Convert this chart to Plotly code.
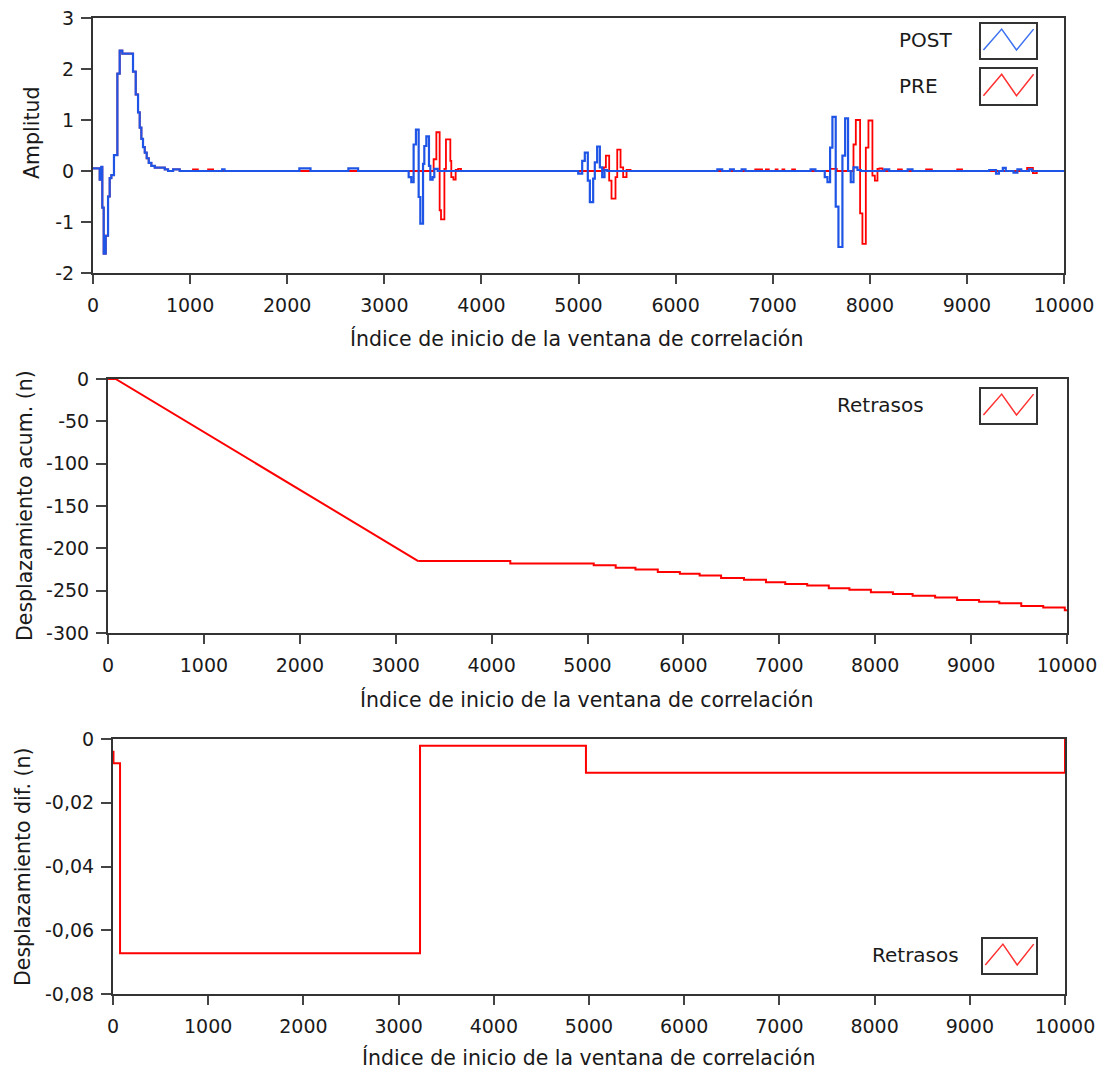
import plotly.graph_objects as go

# ---------------- data ----------------
# First echo (common to POST and PRE)
pulse_idx = [0, 69, 86, 96, 110, 131, 155, 172, 189, 216, 251, 275, 302, 412, 440, 464, 481, 498,
             515, 533, 553, 574, 601, 636, 739, 773, 825, 893]
pulse_val = [0.05, -0.17, 0.08, -0.72, -1.62, -1.27, -0.5, -0.14, -0.08, 0.31, 1.91, 2.36, 2.30, 1.95,
             1.5, 1.15, 0.85, 0.63, 0.47, 0.36, 0.25, 0.16, 0.10, 0.065, 0.03, 0.0, 0.03, 0.0]

# POST bursts
post_b1_idx = [3251, 3278, 3302, 3326, 3354, 3371, 3399, 3412, 3433, 3460, 3474, 3498, 3515, 3550]
post_b1_val = [-0.12, -0.22, 0.52, 0.81, -0.51, -1.03, 0.14, 0.49, 0.68, 0.10, -0.17, -0.12, 0.04, 0.0]
post_b2_idx = [4997, 5038, 5065, 5096, 5117, 5151, 5168, 5192, 5220, 5244, 5268, 5296]
post_b2_val = [-0.05, 0.2, 0.36, -0.19, -0.61, -0.15, 0.17, 0.48, 0.07, -0.12, 0.02, 0.0]
post_b3_idx = [7536, 7564, 7591, 7615, 7649, 7677, 7718, 7746, 7776, 7804, 7832, 7873, 7907]
post_b3_val = [-0.12, -0.22, 0.46, 1.06, -0.7, -1.49, 0.3, 1.03, 0.0, -0.22, 0.07, 0.02, 0.0]

# PRE bursts
pre_b1_idx = [3508, 3536, 3570, 3584, 3619, 3635, 3680, 3690, 3712, 3735, 3760, 3790]
pre_b1_val = [0.23, 0.76, -0.77, -0.95, 0.04, 0.62, 0.2, -0.12, -0.17, 0.02, 0.04, 0.0]
pre_b2_idx = [5261, 5282, 5316, 5340, 5381, 5399, 5433, 5460, 5495, 5536]
pre_b2_val = [0.07, 0.3, -0.19, -0.54, -0.12, 0.42, 0.07, -0.12, 0.02, 0.0]
pre_b3_idx = [7591, 7660, 7832, 7856, 7900, 7924, 7959, 7986, 8027, 8052, 8079, 8131]
pre_b3_val = [0.04, 0.0, 0.52, 1.0, -0.83, -1.43, 0.46, 0.99, -0.09, -0.19, 0.04, 0.0]

# small noise bumps
post_noise_idx = [1330, 1355, 2125, 2240, 2630, 2730, 6430, 6480, 6560, 6600, 6680, 6720, 7390, 7440,
                  8150, 8200, 8390, 8440, 9230, 9300, 9330, 9370, 9400, 9480, 9520, 9560, 9640, 9670]
post_noise_val = [0.03, 0.0, 0.05, 0.0, 0.05, 0.0, 0.03, 0.0, 0.03, 0.0, 0.03, 0.0, 0.03, 0.0,
                  0.03, 0.0, 0.03, 0.0, 0.02, -0.05, 0.0, 0.06, 0.0, -0.03, 0.03, 0.0, 0.03, 0.0]
pre_noise_idx = [1030, 1080, 1185, 1237, 6820, 6890, 6930, 6960, 7030, 7050, 7100, 7120, 7200, 7230,
                 8100, 8150, 8290, 8330, 8580, 8640, 8900, 8950, 9620, 9680, 9720]
pre_noise_val = [0.03, 0.0, 0.03, 0.0, 0.03, 0.0, 0.03, 0.0, 0.03, 0.0, 0.03, 0.0, 0.03, 0.0,
                 0.05, 0.0, 0.03, 0.0, 0.03, 0.0, 0.03, 0.0, 0.06, -0.04, 0.0]

end_idx = [10000]
end_val = [0.0]

# Cumulative delay (middle panel)
acc_slope_idx = [0, 80, 3235]
acc_slope_val = [0, 0, -215]
acc_step_idx = [3235, 4195, 5065, 5294, 5500, 5733, 5963, 6169, 6393, 6632, 6861, 7062, 7291, 7516,
                7731, 7955, 8185, 8390, 8625, 8854, 9083, 9294, 9523, 9752, 9977, 10000]
acc_step_val = [-215, -218, -220, -223, -225, -228, -230, -232, -235, -237, -240, -242, -244, -247,
                -249, -252, -254, -256, -258, -261, -263, -265, -268, -270, -273, -273]

# Differential delay (bottom panel)
dif_idx = [0, 5, 74, 3225, 4968, 10000]
dif_val = [-0.004, -0.0076, -0.0672, -0.0021, -0.0106, 0.0]

# tick labels
x_ticks = [0, 1000, 2000, 3000, 4000, 5000, 6000, 7000, 8000, 9000, 10000]
x_ticklabels = ["0", "1000", "2000", "3000", "4000", "5000", "6000", "7000", "8000", "9000", "10000"]
y1_ticks = [-2, -1, 0, 1, 2, 3]
y1_ticklabels = ["-2", "-1", "0", "1", "2", "3"]
y2_ticks = [-300, -250, -200, -150, -100, -50, 0]
y2_ticklabels = ["-300", "-250", "-200", "-150", "-100", "-50", "0"]
y3_ticks = [-0.08, -0.06, -0.04, -0.02, 0]
y3_ticklabels = ["-0,08", "-0,06", "-0,04", "-0,02", "0"]


def merge(*pairs):
    pts = []
    for ix, vv in pairs:
        pts.extend(zip(ix, vv))
    pts.sort(key=lambda p: p[0])
    return [p[0] for p in pts], [p[1] for p in pts]


post_x, post_y = merge((pulse_idx, pulse_val), (post_b1_idx, post_b1_val), (post_b2_idx, post_b2_val),
                       (post_b3_idx, post_b3_val), (post_noise_idx, post_noise_val), (end_idx, end_val))
pre_x, pre_y = merge((pulse_idx, pulse_val), (pre_b1_idx, pre_b1_val), (pre_b2_idx, pre_b2_val),
                     (pre_b3_idx, pre_b3_val), (pre_noise_idx, pre_noise_val), (end_idx, end_val))

# ---------------- figure ----------------
W, H = 1102, 1072
FONT = "DejaVu Sans"
TXT = "#1a1a1a"
BLUE = "#1f55e6"
RED = "#ff0000"


def px(x):
    return x / W


def py(y):
    return 1 - y / H


fig = go.Figure()
fig.add_trace(go.Scatter(x=pre_x, y=pre_y, mode="lines", line=dict(color=RED, width=1.8, shape="hv"),
                         name="PRE", xaxis="x", yaxis="y"))
fig.add_trace(go.Scatter(x=post_x, y=post_y, mode="lines", line=dict(color=BLUE, width=2.2, shape="hv"),
                         name="POST", xaxis="x", yaxis="y"))
fig.add_trace(go.Scatter(x=acc_slope_idx, y=acc_slope_val, mode="lines", line=dict(color=RED, width=2),
                         name="Retrasos", xaxis="x2", yaxis="y2"))
fig.add_trace(go.Scatter(x=acc_step_idx, y=acc_step_val, mode="lines",
                         line=dict(color=RED, width=2, shape="hv"), name="Retrasos", xaxis="x2", yaxis="y2"))
fig.add_trace(go.Scatter(x=dif_idx, y=dif_val, mode="lines", line=dict(color=RED, width=2, shape="hv"),
                         name="Retrasos", xaxis="x3", yaxis="y3"))

common = dict(showline=True, mirror=True, linecolor="#333333", linewidth=2, showgrid=False,
              zeroline=False, ticks="outside", tickwidth=1.5, tickcolor="#444444", automargin=False,
              tickfont=dict(family=FONT, size=19, color=TXT))
xcommon = dict(common, ticklen=9, ticklabelstandoff=5)
ycommon = dict(common, ticklen=10, ticklabelstandoff=3)

fig.update_layout(
    width=W, height=H, autosize=False, margin=dict(l=0, r=0, t=0, b=0, pad=0, autoexpand=False),
    paper_bgcolor="white", plot_bgcolor="white", showlegend=False,
    xaxis=dict(domain=[px(93), px(1064)], range=[0, 10000], anchor="y", tickvals=x_ticks,
               ticktext=x_ticklabels, **xcommon),
    yaxis=dict(domain=[py(273), py(18)], range=[-2, 3], anchor="x", tickvals=y1_ticks,
               ticktext=y1_ticklabels, **ycommon),
    xaxis2=dict(domain=[px(108), px(1067)], range=[0, 10000], anchor="y2", tickvals=x_ticks,
                ticktext=x_ticklabels, **xcommon),
    yaxis2=dict(domain=[py(633), py(379)], range=[-300, 0], anchor="x2", tickvals=y2_ticks,
                ticktext=y2_ticklabels, **ycommon),
    xaxis3=dict(domain=[px(113), px(1065)], range=[0, 10000], anchor="y3", tickvals=x_ticks,
                ticktext=x_ticklabels, **xcommon),
    yaxis3=dict(domain=[py(994), py(739)], range=[-0.08, 0], anchor="x3", tickvals=y3_ticks,
                ticktext=y3_ticklabels, **ycommon),
)

annotations = []
shapes = []


def text(x, y, s, angle=0, xanchor="center", size=20.5):
    annotations.append(dict(x=px(x), y=py(y), xref="paper", yref="paper", text=s, showarrow=False,
                            xanchor=xanchor, yanchor="middle", textangle=angle,
                            font=dict(family=FONT, size=size, color=TXT)))


xt = "Índice de inicio de la ventana de correlación"
text(576, 338, xt)
text(586, 699, xt)
text(588, 1057, xt)
text(32, 133, "Amplitud", angle=-90)
text(25, 506, "Desplazamiento acum. (n)", angle=-90)
text(23, 867, "Desplazamiento dif. (n)", angle=-90)


def legend_icon(x0, y0, x1, y1, color):
    shapes.append(dict(type="rect", xref="paper", yref="paper", x0=px(x0), x1=px(x1), y0=py(y1), y1=py(y0),
                       line=dict(color="#333333", width=2), fillcolor="white"))
    w = x1 - x0
    h = y1 - y0
    pts = [(x0 + 0.06 * w, y0 + 0.75 * h), (x0 + 0.38 * w, y0 + 0.17 * h),
           (x0 + 0.64 * w, y0 + 0.75 * h), (x0 + 0.94 * w, y0 + 0.17 * h)]
    path = "M " + " L ".join(f"{px(a):.5f},{py(b):.5f}" for a, b in pts)
    shapes.append(dict(type="path", xref="paper", yref="paper", path=path, line=dict(color=color, width=1.5)))


text(897, 40, "POST", xanchor="left", size=20)
legend_icon(980, 23, 1037, 59, "#3a6ff0")
text(897, 86, "PRE", xanchor="left", size=20)
legend_icon(980, 68, 1037, 105, "#ff3030")
text(835, 405, "Retrasos", xanchor="left", size=20)
legend_icon(980, 388, 1037, 424, "#ff3030")
text(870, 955, "Retrasos", xanchor="left", size=20)
legend_icon(982, 938, 1037, 974, "#ff3030")

fig.update_layout(annotations=annotations, shapes=shapes)
fig.write_html("out.html", config={"responsive": False})
